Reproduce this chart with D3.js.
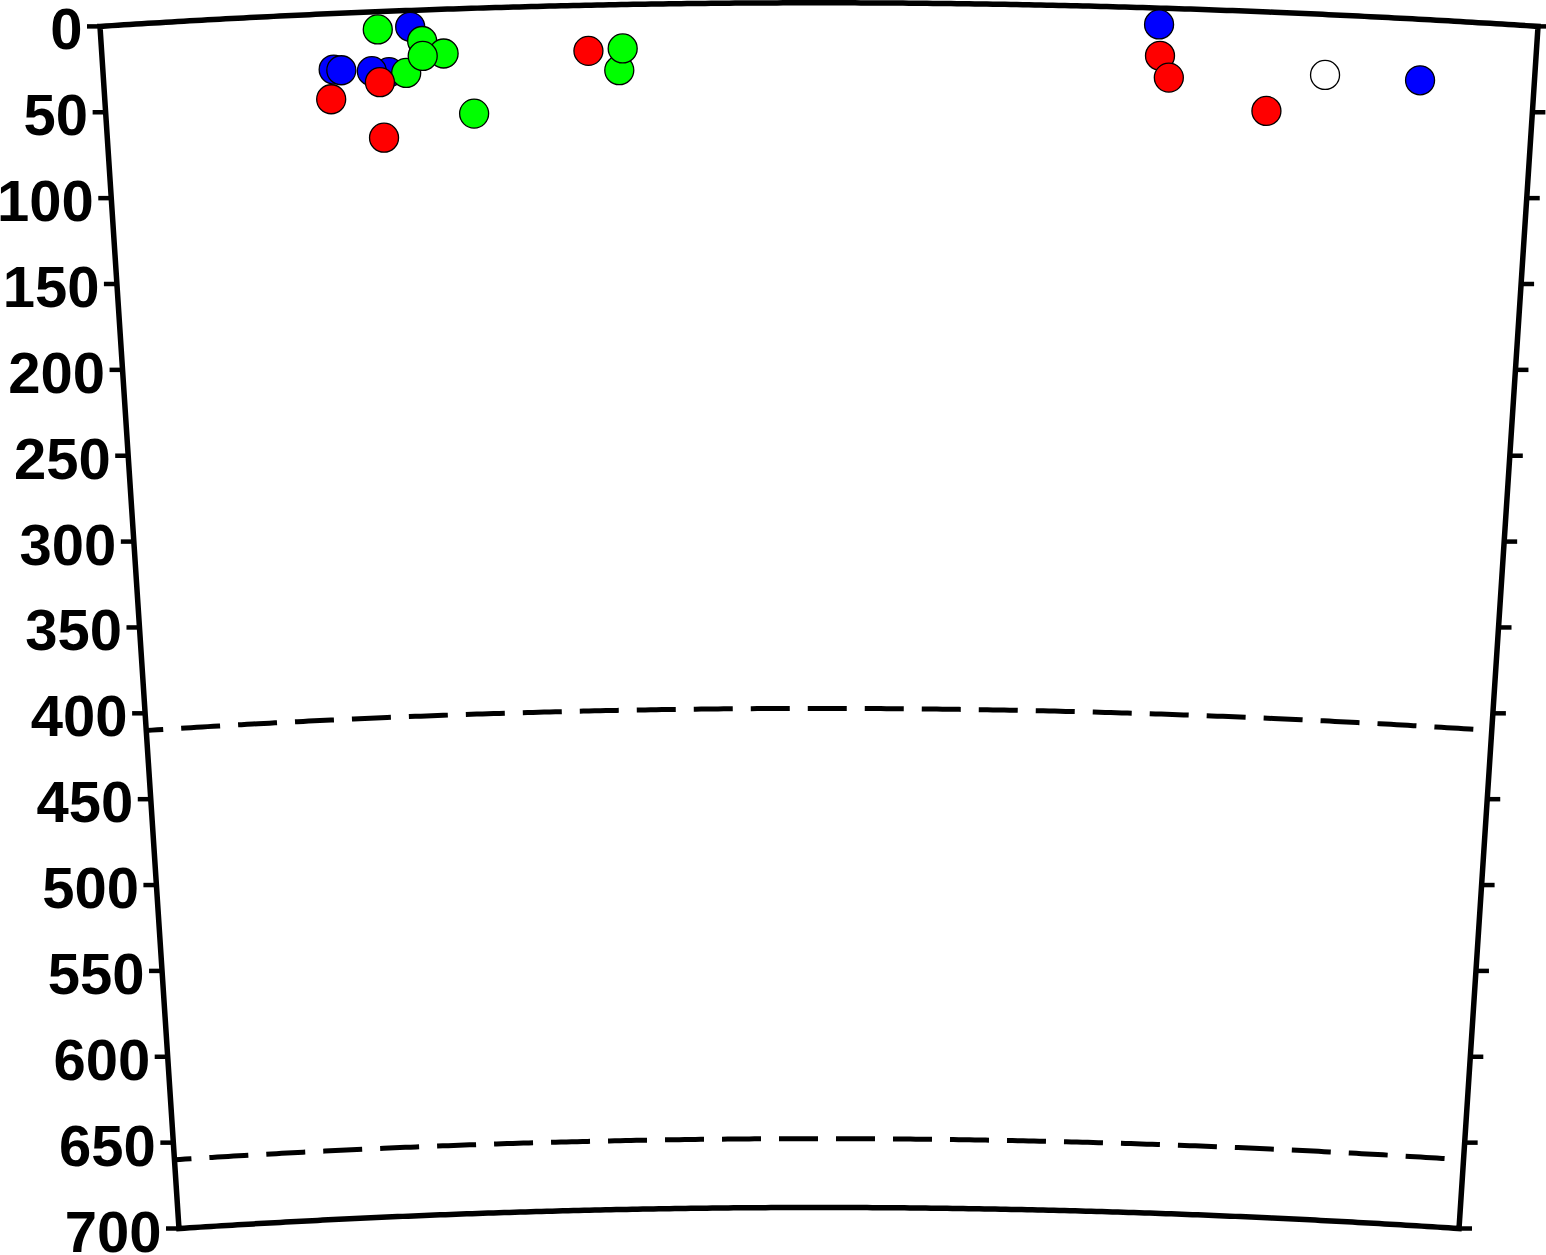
<!DOCTYPE html>
<html><head><meta charset="utf-8">
<script src="https://cdn.jsdelivr.net/npm/d3@7"></script>
<style>html,body{margin:0;padding:0;background:#fff}</style>
</head><body>
<svg id="chart" width="1546" height="1255"></svg>
<script>
// ---- data ----
const depthTicks = [0,50,100,150,200,250,300,350,400,450,500,550,600,650,700];
const discontinuityDepths = [410, 660];
const distanceRange = [0, 7.52];          // angular distance across the section (deg)
const depthRange = [0, 700];               // km

const blueDist  = [1.62, 1.50, 1.41, 1.21, 1.25, 5.54, 6.92];
const blueDepth = [9.5, 35.4, 34.4, 32.5, 33.1, 9.5, 35.4];

const greenDist  = [1.45, 1.68, 1.79, 1.59, 1.68, 1.94, 2.71, 2.73];
const greenDepth = [10.3, 18.0, 25.7, 36.2, 26.7, 61.2, 38.1, 25.5];

const redDist  = [1.45, 1.19, 1.46, 2.55, 5.55, 5.60, 6.12];
const redDepth = [41.0, 49.7, 73.3, 26.5, 27.7, 40.2, 57.5];

const whiteDist  = [6.42];
const whiteDepth = [35.1];

// ---- geometry (earth cross-section) ----
const earthRadius = 6371;
const kmPx = 1.721;
const cx = 819;
const R0 = earthRadius * kmPx;
const halfAngle = (distanceRange[1] - distanceRange[0]) / 2 * Math.PI / 180;
const cy = 26.4 + R0 * Math.cos(halfAngle);

const angle = d3.scaleLinear().domain(distanceRange).range([-halfAngle, halfAngle]);
const radius = d3.scaleLinear().domain(depthRange).range([R0, R0 - (depthRange[1]-depthRange[0]) * kmPx]);

const px = (dist, depth) => cx + radius(depth) * Math.sin(angle(dist));
const py = (dist, depth) => cy - radius(depth) * Math.cos(angle(dist));

const svg = d3.select('#chart');
const line = d3.line();

function arcPoints(depth, n = 240) {
  const pts = [];
  for (let i = 0; i <= n; i++) {
    const d = distanceRange[0] + (distanceRange[1] - distanceRange[0]) * i / n;
    pts.push([px(d, depth), py(d, depth)]);
  }
  return pts;
}

// dashed discontinuities
svg.append('g').selectAll('path').data(discontinuityDepths).join('path')
  .attr('d', d => line(arcPoints(d)))
  .attr('fill', 'none').attr('stroke', '#000').attr('stroke-width', 5)
  .attr('stroke-dasharray', '39 18').attr('stroke-dashoffset', 22);

// frame
const framePts = arcPoints(depthRange[0]).concat(arcPoints(depthRange[1]).reverse());
svg.append('path')
  .attr('d', line(framePts) + 'Z')
  .attr('fill', 'none').attr('stroke', '#000').attr('stroke-width', 5.5)
  .attr('stroke-linejoin', 'miter');

// ticks
const tickLen = 13;
const tg = svg.append('g').attr('stroke', '#000').attr('stroke-width', 4.5);
tg.selectAll('line.l').data(depthTicks).join('line').attr('class', 'l')
  .attr('x1', d => px(distanceRange[0], d)).attr('x2', d => px(distanceRange[0], d) - tickLen)
  .attr('y1', d => py(distanceRange[0], d)).attr('y2', d => py(distanceRange[0], d));
tg.selectAll('line.r').data(depthTicks).join('line').attr('class', 'r')
  .attr('x1', d => px(distanceRange[1], d)).attr('x2', d => px(distanceRange[1], d) + tickLen)
  .attr('y1', d => py(distanceRange[1], d)).attr('y2', d => py(distanceRange[1], d));

// tick labels
svg.append('g').selectAll('text').data(depthTicks).join('text')
  .attr('x', d => px(distanceRange[0], d) - 17.5)
  .attr('y', d => py(distanceRange[0], d) + 23)
  .attr('text-anchor', 'end')
  .attr('font-family', '"Liberation Sans", Arial, Helvetica, sans-serif')
  .attr('font-weight', 'bold').attr('font-size', 58)
  .attr('fill', '#000')
  .text(d => d);

// events
const series = [
  {dist: blueDist, depth: blueDepth, color: '#0000ff'},
  {dist: greenDist, depth: greenDepth, color: '#00ff00'},
  {dist: redDist, depth: redDepth, color: '#ff0000'},
  {dist: whiteDist, depth: whiteDepth, color: '#ffffff'}
];
series.forEach(s => {
  svg.append('g').selectAll('circle').data(s.dist.map((d, i) => [d, s.depth[i]])).join('circle')
    .attr('cx', d => px(d[0], d[1]))
    .attr('cy', d => py(d[0], d[1]))
    .attr('r', 14.5)
    .attr('fill', s.color).attr('stroke', '#000').attr('stroke-width', 1.3);
});
</script>
</body></html>
